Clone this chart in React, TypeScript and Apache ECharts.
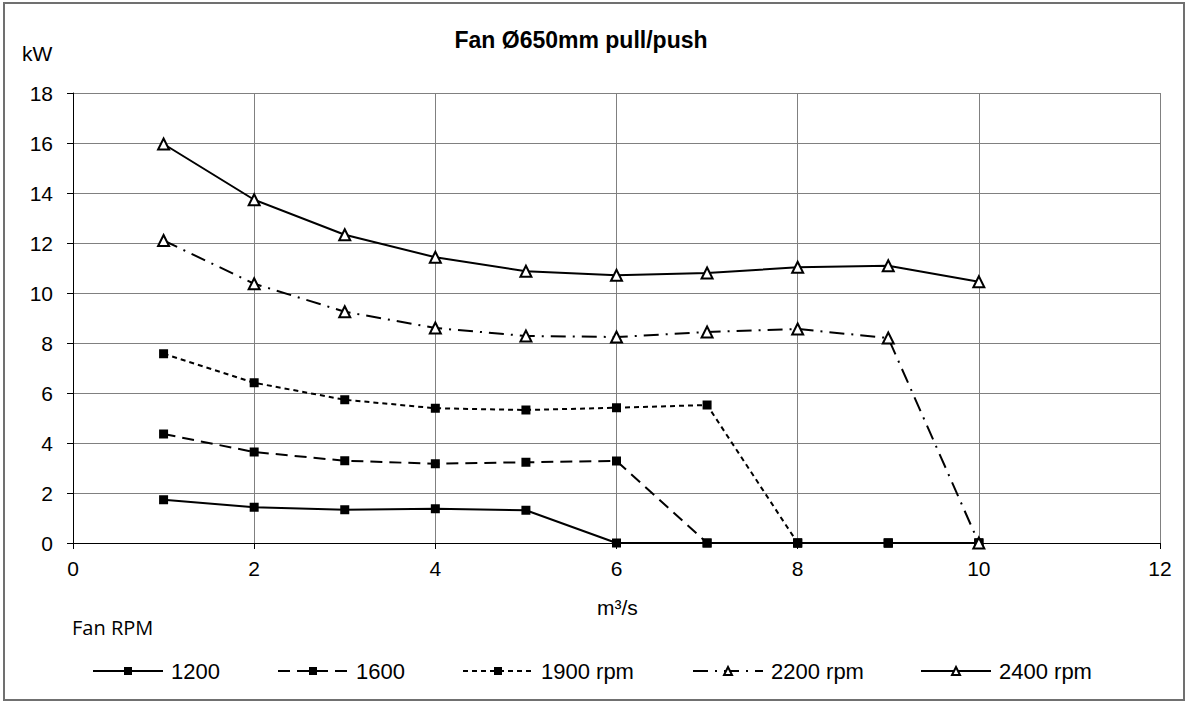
import React, { useEffect, useRef } from "react";
import * as echarts from "echarts";

const flows = [1, 2, 3, 4, 5, 6, 7, 8, 9, 10];
const rpm1200 = [1.73, 1.43, 1.33, 1.37, 1.31, 0, 0, 0, 0, 0];
const rpm1600 = [4.36, 3.64, 3.29, 3.17, 3.23, 3.28, 0, 0, 0, 0];
const rpm1900 = [7.57, 6.41, 5.73, 5.39, 5.32, 5.41, 5.52, 0, 0, 0];
const rpm2200 = [12.1, 10.37, 9.25, 8.6, 8.28, 8.24, 8.44, 8.56, 8.2, 0];
const rpm2400 = [15.96, 13.73, 12.33, 11.43, 10.87, 10.71, 10.8, 11.03, 11.09, 10.45];
const seriesNames = ["1200", "1600", "1900 rpm", "2200 rpm", "2400 rpm"];
const xTicks = [0, 2, 4, 6, 8, 10, 12];

const FONT = "'Liberation Sans', Arial, sans-serif";

export default function App() {
  const ref = useRef<HTMLDivElement>(null);
  useEffect(() => {
    if (!ref.current) return;
    const chart = echarts.init(ref.current, null, { renderer: "svg" });
    const pairs = (vals: number[]) => vals.map((v, i) => [flows[i], v]);
    const sq = { symbol: "rect", symbolSize: 9, itemStyle: { color: "#000", borderColor: "#000", borderWidth: 0 } };
    const tri = { symbol: "triangle", symbolSize: 11, itemStyle: { color: "#fff", borderColor: "#000", borderWidth: 2 } };
    const datasets = [rpm1200, rpm1600, rpm1900, rpm2200, rpm2400];
    const dashes: any[] = ["solid", [12, 7], [5, 4], [15, 7, 2, 7], "solid"];
    const marks = [sq, sq, sq, tri, tri];
    const series = datasets.map((d, i) => ({
      name: seriesNames[i],
      type: "line",
      data: pairs(d),
      showSymbol: true,
      ...marks[i],
      lineStyle: { color: "#000", width: 2, type: dashes[i] },
      z: 3 + i,
    }));
    const legendLefts = [87, 272, 457, 687, 915];
    const legends = seriesNames.map((n, i) => ({
      data: [n],
      left: legendLefts[i],
      top: 655,
      itemWidth: 70,
      itemHeight: 10,
      textStyle: { fontFamily: FONT, fontSize: 22, color: "#000", padding: [0, 0, 0, 3] },
    }));
    chart.setOption({
      animation: false,
      backgroundColor: "#fff",
      title: {
        text: "Fan Ø650mm pull/push",
        left: 576,
        textAlign: "center",
        top: 23,
        textStyle: { fontFamily: FONT, fontSize: 23, fontWeight: "bold", color: "#000" },
      },
      grid: { left: 73, top: 93, width: 1087, height: 450 },
      legend: legends,
      xAxis: {
        type: "value",
        min: 0,
        max: 12,
        interval: 2,
        axisLine: { show: true, lineStyle: { color: "#000", width: 1 } },
        axisTick: { show: true, length: 6, lineStyle: { color: "#000" } },
        axisLabel: {
          fontFamily: FONT,
          fontSize: 21,
          color: "#000",
          margin: 15,
          formatter: (v: number) => (xTicks.includes(v) ? String(v) : ""),
        },
        splitLine: { show: true, lineStyle: { color: "#808080", width: 1 } },
      },
      yAxis: {
        type: "value",
        min: 0,
        max: 18,
        interval: 2,
        axisLine: { show: true, lineStyle: { color: "#000", width: 1 } },
        axisTick: { show: true, length: 6, lineStyle: { color: "#000" } },
        axisLabel: { fontFamily: FONT, fontSize: 21, color: "#000", margin: 20 },
        splitLine: { show: true, lineStyle: { color: "#808080", width: 1 } },
      },
      graphic: [
        {
          type: "rect",
          shape: { x: 4, y: 3, width: 1180, height: 697 },
          style: { fill: "none", stroke: "#707070", lineWidth: 2 },
          silent: true,
          z: -10,
        },
        {
          type: "text",
          left: 22,
          top: 43,
          style: { text: "kW", fontFamily: FONT, fontSize: 21, fill: "#000" },
        },
        {
          type: "text",
          left: 597,
          top: 597,
          style: { text: "m³/s", fontFamily: FONT, fontSize: 21, fill: "#000" },
        },
        {
          type: "text",
          left: 72,
          top: 617,
          style: { text: "Fan RPM", fontFamily: "'Open Sans', 'Noto Sans', sans-serif", fontSize: 20, fill: "#000" },
        },
      ],
      series,
    });
    return () => chart.dispose();
  }, []);
  return (
    <div
      ref={ref}
      style={{ position: "fixed", left: 0, top: 0, width: 1188, height: 704, background: "#fff" }}
    />
  );
}
